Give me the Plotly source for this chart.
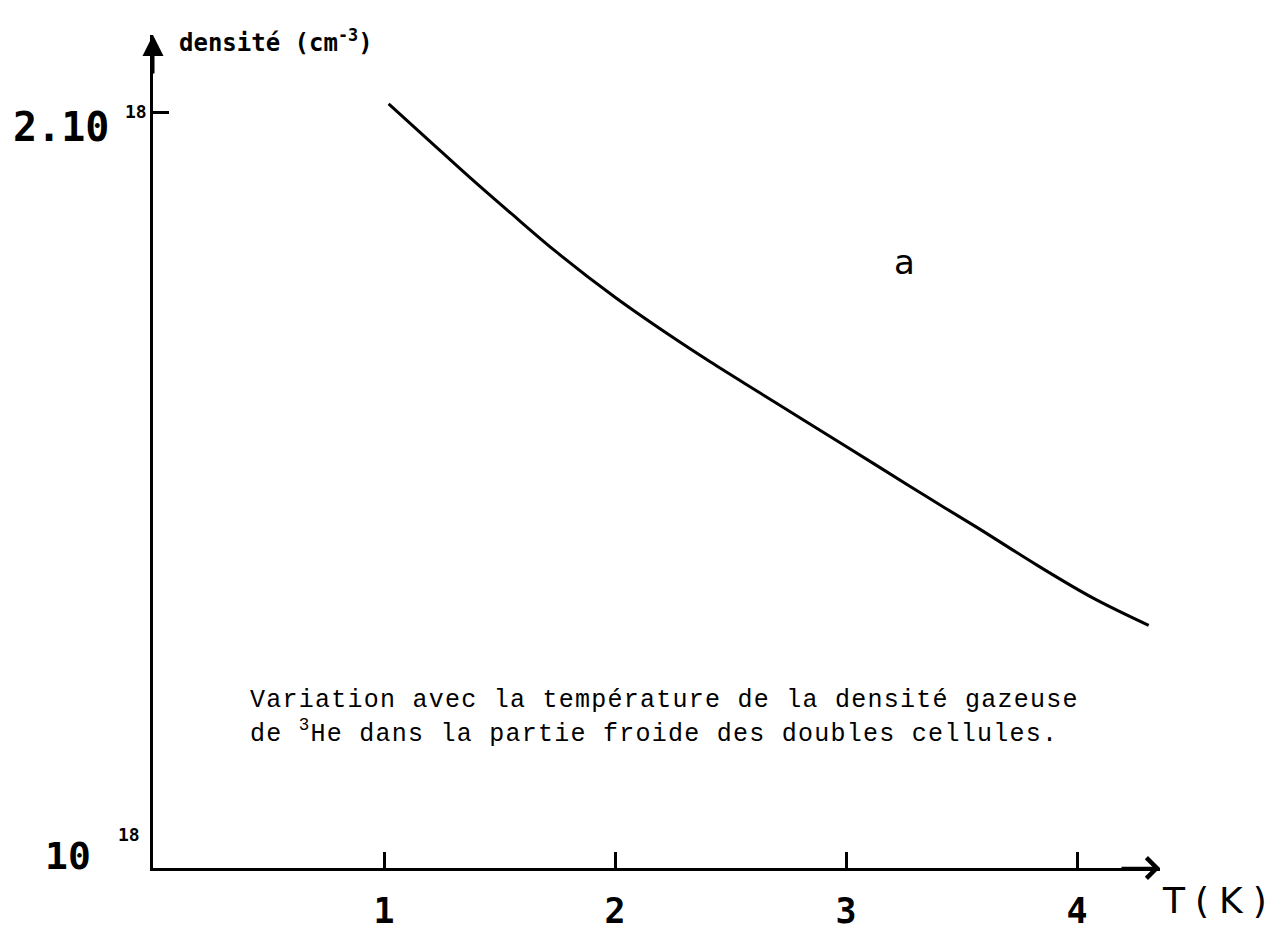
import plotly.graph_objects as go

# Temperature (K) and gas density of 3He (units of 10^18 cm^-3)
temperature = [1.02, 1.20, 1.37, 1.55, 1.75, 2.00, 2.24, 2.41, 2.63, 2.84,
               3.13, 3.35, 3.57, 3.83, 4.07, 4.31]
density = [2.011, 1.961, 1.914, 1.866, 1.814, 1.755, 1.704, 1.670, 1.628,
           1.588, 1.533, 1.491, 1.450, 1.400, 1.357, 1.321]

x_ticks = [1, 2, 3, 4]
x_tick_text = ["1", "2", "3", "4"]
y_marks = [1.0, 2.0]

X_MAX = 4.359
Y_MIN, Y_MAX = 1.0, 2.102

INK = "black"
MONO = "DejaVu Sans Mono"

fig = go.Figure()
fig.add_trace(go.Scatter(
    x=temperature, y=density, mode="lines",
    line=dict(color=INK, width=3, shape="spline", smoothing=1.0),
    showlegend=False, hoverinfo="skip",
))

fig.update_layout(
    width=1287, height=931,
    margin=dict(l=153, r=127, t=35, b=63),
    paper_bgcolor="white", plot_bgcolor="white",
    xaxis=dict(
        range=[0, X_MAX], showgrid=False, zeroline=False, automargin=False,
        showline=True, linecolor=INK, linewidth=3,
        tickmode="array", tickvals=x_ticks, ticktext=x_tick_text,
        ticks="inside", ticklen=16, tickwidth=3, tickcolor=INK,
        tickfont=dict(family=MONO, size=35, color=INK, weight="bold"),
        ticklabelstandoff=10,
    ),
    yaxis=dict(
        range=[Y_MIN, Y_MAX], showgrid=False, zeroline=False, automargin=False,
        showline=True, linecolor=INK, linewidth=3,
        tickmode="array", tickvals=[y_marks[1]],
        ticks="inside", ticklen=16, tickwidth=3, tickcolor=INK,
        showticklabels=False,
    ),
)

ann = []
# axis arrowheads
ann.append(dict(x=0, y=Y_MAX, xref="x", yref="y", ax=0, ay=40, text="",
                showarrow=True, arrowhead=2, arrowsize=1.4, arrowwidth=3,
                arrowcolor=INK))
ann.append(dict(x=X_MAX, y=Y_MIN, xref="x", yref="y", ax=-40, ay=0, text="",
                showarrow=True, arrowhead=4, arrowsize=1.6, arrowwidth=2.5,
                arrowcolor=INK))

# y-axis value labels
ann.append(dict(x=0, y=y_marks[1], xref="x", yref="y", text="2.10",
                xanchor="right", yanchor="middle", xshift=-42, yshift=-15,
                showarrow=False,
                font=dict(family=MONO, size=40, color=INK, weight="bold")))
ann.append(dict(x=0, y=y_marks[1], xref="x", yref="y", text="18",
                xanchor="right", yanchor="middle", xshift=-4, yshift=1,
                showarrow=False,
                font=dict(family=MONO, size=18, color=INK, weight="bold")))
ann.append(dict(x=0, y=y_marks[0], xref="x", yref="y", text="10",
                xanchor="right", yanchor="middle", xshift=-60, yshift=12,
                showarrow=False,
                font=dict(family=MONO, size=38, color=INK, weight="bold")))
ann.append(dict(x=0, y=y_marks[0], xref="x", yref="y", text="18",
                xanchor="right", yanchor="middle", xshift=-11, yshift=34,
                showarrow=False,
                font=dict(family=MONO, size=18, color=INK, weight="bold")))

# axis titles
ann.append(dict(x=0, y=1, xref="x", yref="paper",
                text="densité (cm<sup>-3</sup>)",
                xanchor="left", yanchor="middle", xshift=24, yshift=-6,
                showarrow=False,
                font=dict(family=MONO, size=24, color=INK, weight="bold")))
ann.append(dict(x=X_MAX, y=Y_MIN, xref="x", yref="y",
                text="<span style='letter-spacing:10px'>T(K)</span>",
                xanchor="left", yanchor="middle", xshift=0, yshift=-32,
                showarrow=False,
                font=dict(family="DejaVu Sans", size=36, color=INK)))

# curve label
ann.append(dict(x=3.255, y=1.802, xref="x", yref="y", text="a",
                showarrow=False,
                font=dict(family="DejaVu Sans", size=34, color=INK)))

# caption
CAPTION_FONT = dict(family="Liberation Mono", size=25, color=INK)
ann.append(dict(x=0.41, y=1.222, xref="x", yref="y",
                text="<span style='letter-spacing:1.25px'>Variation avec la température de la densité gazeuse</span>",
                xanchor="left", yanchor="middle", showarrow=False,
                font=CAPTION_FONT))
ann.append(dict(x=0.41, y=1.180, xref="x", yref="y",
                text="<span style='letter-spacing:1.25px'>de <sup>3</sup>He dans la partie froide des doubles cellules.</span>",
                xanchor="left", yanchor="middle", showarrow=False,
                font=CAPTION_FONT))

fig.update_layout(annotations=ann)

fig.write_html("out.html")
